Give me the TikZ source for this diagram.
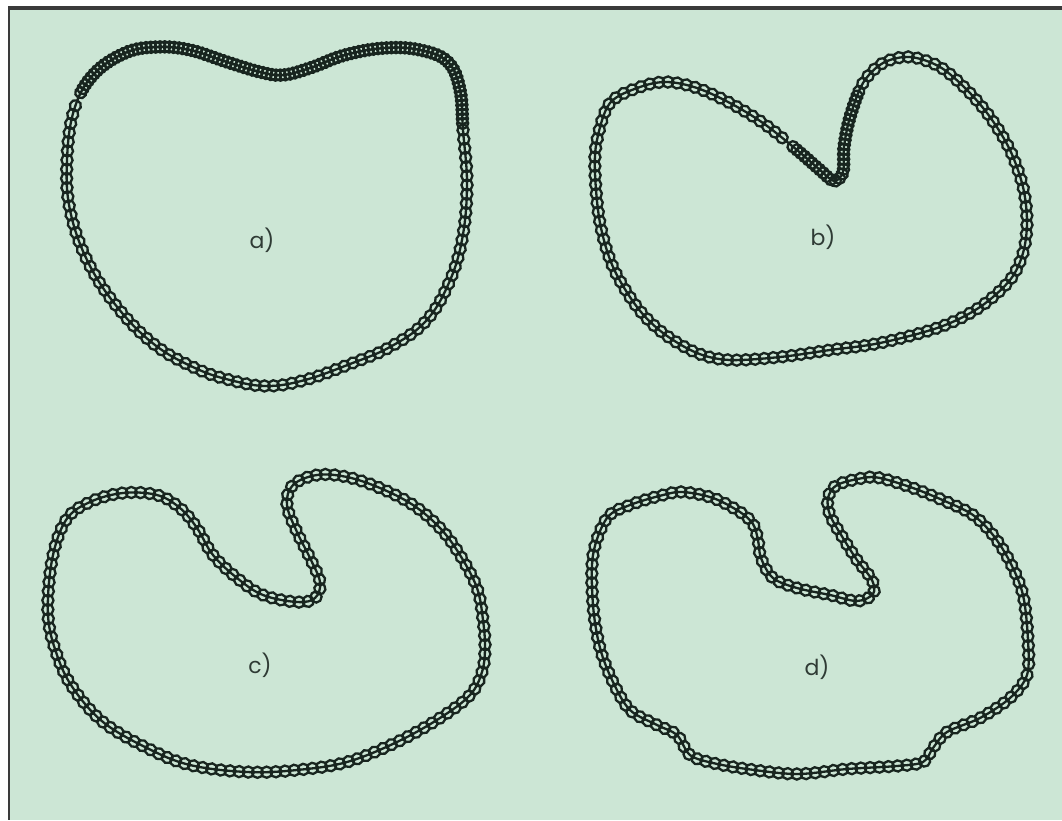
\documentclass[tikz,border=0pt]{standalone}
\usepackage{fontspec}
\usepackage{xcolor}
\usepackage{tikz}
\usetikzlibrary{
  decorations.markings,
  positioning
}
\newfontfamily\labelfont{Poppins}
\definecolor{mint}{HTML}{CCE6D5}
\definecolor{frame}{HTML}{3A3A3A}
\definecolor{bead}{HTML}{18251F}
\tikzset{
  beadring/.style={
    draw=bead, line width=2.3pt
  },
  chainpart/.style n args={3}{
    postaction={decorate, decoration={markings,
      mark=between positions #1 and #2 step #3 with {\draw[beadring] (0,0) circle (5.6pt);}}}
  },
  chain/.style={
    draw=bead, line width=2.3pt
  },
  shapelabel/.style={
    font=\labelfont\fontsize{22}{25}\selectfont, text=bead!90
  },
}

\begin{document}
\begin{tikzpicture}[x=1pt, y=-1pt]

  %% Page and frame
  \useasboundingbox (0,0) rectangle (1062,820);
  \fill[white] (0,0) rectangle (1062,820);
  \fill[mint] (10,10) rectangle (1062,820);
  \fill[frame] (8,6) rectangle (1062,10);
  \fill[frame] (8,6) rectangle (10,820);

  %% a) relaxed chain, packed along the top
  \draw[chain, chainpart={0}{0.62}{9.2pt}, chainpart={0.625}{0.995}{4.6pt}]
    plot[smooth cycle, tension=0.65] coordinates {
      (460,90) (463,130) (467,185) (462,240) (448,285) (425,322) (390,347)
      (350,364) (305,380) (267,386) (230,380) (195,368) (155,345) (118,308)
      (88,262) (70,210) (67,160) (74,110) (93,75) (125,53) (157,47) (190,50)
      (227,62) (260,72) (283,75) (310,68) (345,55) (385,48) (420,50)
      (448,62)};
  \node[shapelabel] (la) at (262,240) {a)};

  %% b) chain with a sharp fold
  \draw[chain, chainpart={0}{0.645}{9.2pt}, chainpart={0.65}{0.765}{5pt},
        chainpart={0.77}{0.995}{9.2pt}]
    plot[smooth cycle, tension=0.55] coordinates {
      (1027,222) (1023,253) (1010,280) (980,307) (940,327) (880,343) (830,350)
      (780,357) (730,360) (697,353) (663,333) (637,307) (613,267) (600,223)
      (595,173) (597,140) (610,103) (640,87) (667,82) (697,88) (730,103)
      (763,123) (797,150) (820,170) (834,181) (843,172) (844,147) (850,117)
      (863,83) (883,63) (910,57) (940,67) (967,90) (990,117) (1010,150)
      (1023,187)};
  \node[shapelabel] (lb) at (823,237) {b)};

  %% c) chain with a rounded fold
  \draw[chain, chainpart={0}{0.995}{9.2pt}]
    plot[smooth cycle, tension=0.6] coordinates {
      (485,648) (482,672) (470,695) (440,718) (397,742) (347,762) (297,770)
      (247,772) (190,765) (147,748) (103,722) (73,688) (57,655) (48,615)
      (52,560) (66,520) (90,502) (123,493) (157,495) (180,508) (197,528)
      (213,555) (237,578) (263,595) (297,602) (315,598) (320,582) (310,558)
      (297,532) (287,505) (293,485) (317,475) (347,477) (380,488) (413,505)
      (440,528) (460,555) (477,588) (483,620)};
  \node[shapelabel] (lc) at (260,665) {c)};

  %% d) chain with bumps
  \draw[chain, chainpart={0}{0.995}{9.2pt}]
    plot[smooth cycle, tension=0.55] coordinates {
      (1028,640) (1027,675) (1010,698) (980,718) (947,732) (933,748)
      (923,762) (897,766) (847,769) (797,774) (747,769) (713,763) (690,755)
      (677,735) (657,725) (630,710) (613,682) (600,648) (593,605) (593,555)
      (607,518) (630,505) (663,495) (683,492) (713,498) (740,512) (753,524)
      (758,540) (761,558) (773,578) (797,588) (830,595) (857,601) (873,594)
      (872,580) (857,560) (843,538) (830,515) (828,498) (837,485) (863,478)
      (880,478) (913,488) (947,502) (973,515) (993,535) (1010,562)
      (1023,595)};
  \node[shapelabel] (ld) at (817,667) {d)};

\end{tikzpicture}
\end{document}
